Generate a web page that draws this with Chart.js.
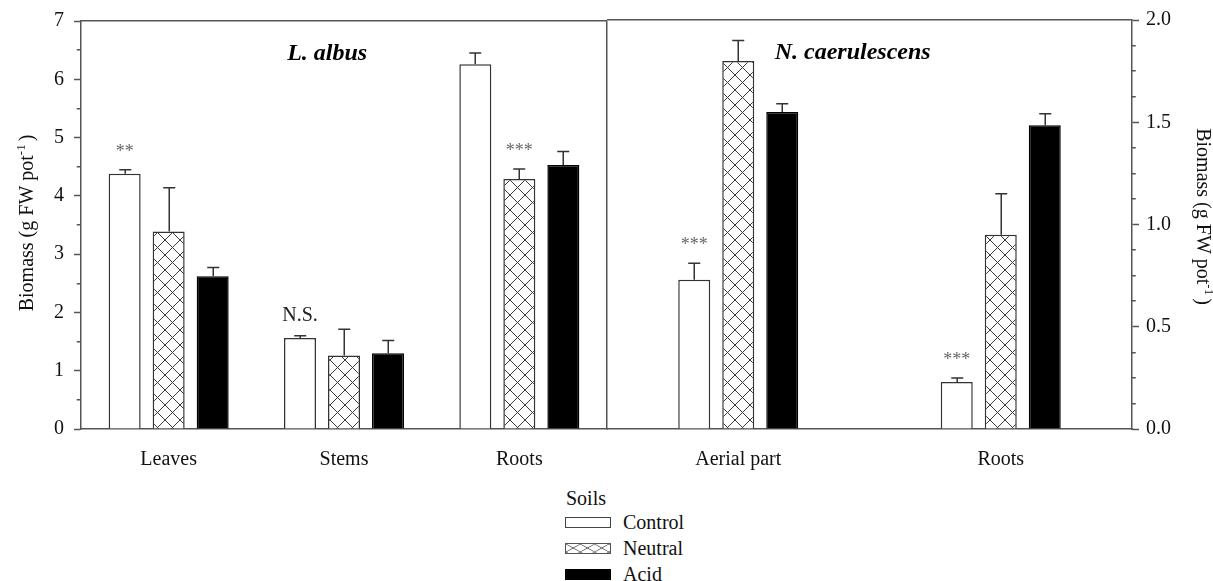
<!DOCTYPE html>
<html>
<head>
<meta charset="utf-8">
<title>Biomass - L. albus / N. caerulescens</title>
<script src="https://cdn.jsdelivr.net/npm/chart.js@4.4.1/dist/chart.umd.min.js"></script>
<style>
  html, body { margin: 0; padding: 0; background: #fff; }
  #wrap { position: relative; width: 1213px; height: 581px; overflow: hidden;
          font-family: 'Liberation Serif', 'Times New Roman', serif; color: #111; }
  #leftChart { position: absolute; left: 0; top: 0; }
  #rightChart { position: absolute; left: 600px; top: 0; }
  #legend { position: absolute; left: 565px; top: 488px; font-size: 20px; line-height: 20px; }
  #legend .head { height: 21px; padding-left: 1px; }
  #legend .row { height: 26px; display: flex; align-items: center; }
  #legend .sw { width: 46px; height: 11px; box-sizing: border-box; margin-right: 12px; }
  #legend .control { border: 1.5px solid #444; background: #fff; }
  #legend .neutral { border: 1.5px solid #555; background-color: #fff;
    background-image:
      linear-gradient(to top right, transparent calc(50% - 0.7px), #555 50%, transparent calc(50% + 0.7px)),
      linear-gradient(to bottom right, transparent calc(50% - 0.7px), #555 50%, transparent calc(50% + 0.7px));
    background-size: 14.3px 8px; }
  #legend .acid { background: #000; border: 1.5px solid #000; }
</style>
</head>
<body>
<div id="wrap">
  <canvas id="leftChart" width="620" height="470"></canvas>
  <canvas id="rightChart" width="613" height="470"></canvas>
  <div id="legend"></div>
</div>
<script>
// categories
const leftCategories = ["Leaves", "Stems", "Roots"];
const rightCategories = ["Aerial part", "Roots"];
const soils = ["Control", "Neutral", "Acid"];

// L. albus, left axis (g FW pot-1)
const albusControl = [4.38, 1.56, 6.26];
const albusNeutral = [3.39, 1.26, 4.29];
const albusAcid = [2.62, 1.30, 4.53];
const albusControlErr = [0.07, 0.04, 0.19];
const albusNeutralErr = [0.75, 0.45, 0.17];
const albusAcidErr = [0.15, 0.22, 0.23];
const albusSigText = ["**", "N.S.", "***"];
const albusSigBar = [0, 0, 1];

// N. caerulescens, right axis (g FW pot-1)
const caerControl = [0.73, 0.23];
const caerNeutral = [1.80, 0.95];
const caerAcid = [1.55, 1.485];
const caerControlErr = [0.08, 0.02];
const caerNeutralErr = [0.10, 0.20];
const caerAcidErr = [0.04, 0.056];
const caerSigText = ["***", "***"];
const caerSigBar = [0, 0];

// axis ticks
const leftTicks = [0, 1, 2, 3, 4, 5, 6, 7];
const leftMinorTicks = [0.5, 1.5, 2.5, 3.5, 4.5, 5.5, 6.5];
const rightTicks = [0, 0.5, 1.0, 1.5, 2.0];
const rightMinorTicks = [0.125, 0.25, 0.375, 0.625, 0.75, 0.875,
                         1.125, 1.25, 1.375, 1.625, 1.75, 1.875];

const FONT = "'Liberation Serif', 'Times New Roman', serif";
const AXIS_COLOR = "#555";
const BAR_LINE = "#333";

Chart.defaults.font.family = FONT;
Chart.defaults.font.size = 20;
Chart.defaults.color = "#111";

function makeHatch() {
    const c = document.createElement("canvas");
    c.width = 15;
    c.height = 15;
    const g = c.getContext("2d");
    g.fillStyle = "#fff";
    g.fillRect(0, 0, 15, 15);
    g.strokeStyle = "#3a3a3a";
    g.lineWidth = 1;
    g.beginPath();
    g.moveTo(0, 0); g.lineTo(15, 15);
    g.moveTo(15, 0); g.lineTo(0, 15);
    g.stroke();
    return g.createPattern(c, "repeat");
}
const hatch = makeHatch();

function align(p, w) {
    return Math.round(p - w / 2) + w / 2;
}

function buildDatasets(control, neutral, acid, errs) {
    const fills = ["#fff", hatch, "#000"];
    const borders = [BAR_LINE, BAR_LINE, "#000"];
    return [control, neutral, acid].map((vals, i) => ({
        label: soils[i],
        data: vals,
        errors: errs[i],
        backgroundColor: fills[i],
        borderColor: borders[i],
        borderWidth: 1.5,
        borderSkipped: "bottom",
    }));
}

function drawAxisTitle(ctx, x, y, angle) {
    const main = "Biomass (g FW pot";
    const sup = "-1";
    const end = ")";
    ctx.save();
    ctx.translate(x, y);
    ctx.rotate(angle);
    ctx.fillStyle = "#111";
    ctx.textAlign = "left";
    ctx.textBaseline = "alphabetic";
    ctx.font = "20px " + FONT;
    const w1 = ctx.measureText(main).width;
    const w3 = ctx.measureText(end).width;
    ctx.font = "13px " + FONT;
    const w2 = ctx.measureText(sup).width;
    let cx = -(w1 + w2 + w3 + 3) / 2;
    ctx.font = "20px " + FONT;
    ctx.fillText(main, cx, 0);
    cx += w1;
    ctx.font = "13px " + FONT;
    ctx.fillText(sup, cx, -8);
    cx += w2 + 3;
    ctx.font = "20px " + FONT;
    ctx.fillText(end, cx, 0);
    ctx.restore();
}

// error bars, significance marks, frame, minor ticks and titles
function panelPlugin(cfg) {
    return {
        id: "panel",
        afterDatasetsDraw(chart) {
            const ctx = chart.ctx;
            const y = chart.scales.y;
            const tops = [];
            ctx.save();
            ctx.strokeStyle = BAR_LINE;
            ctx.lineWidth = 1.5;
            chart.data.datasets.forEach((ds, i) => {
                tops[i] = [];
                chart.getDatasetMeta(i).data.forEach((bar, j) => {
                    const yTop = y.getPixelForValue(ds.data[j] + ds.errors[j]);
                    const yBar = y.getPixelForValue(ds.data[j]);
                    const x = Math.round(bar.x) + 0.25;
                    tops[i][j] = { x: bar.x, y: yTop };
                    ctx.beginPath();
                    ctx.moveTo(x, yBar);
                    ctx.lineTo(x, yTop);
                    ctx.moveTo(x - 6, yTop);
                    ctx.lineTo(x + 6, yTop);
                    ctx.stroke();
                });
            });
            ctx.textAlign = "center";
            ctx.textBaseline = "alphabetic";
            cfg.sigText.forEach((txt, j) => {
                const t = tops[cfg.sigBar[j]][j];
                if (txt.indexOf("*") >= 0) {
                    ctx.fillStyle = "#666";
                    ctx.font = "18px " + FONT;
                    ctx.fillText(txt, t.x, t.y - 13);
                } else {
                    ctx.fillStyle = "#222";
                    ctx.font = "20px " + FONT;
                    ctx.fillText(txt, t.x, t.y - 15);
                }
            });
            ctx.restore();
        },
        afterDraw(chart) {
            const ctx = chart.ctx;
            const a = chart.chartArea;
            const y = chart.scales.y;
            ctx.save();
            ctx.strokeStyle = AXIS_COLOR;
            ctx.lineWidth = 1.5;
            const top = align(a.top, 1.5);
            ctx.beginPath();
            ctx.moveTo(a.left, top);
            ctx.lineTo(a.right, top);
            if (cfg.side === "left") {
                const xr = align(a.right, 1.5);
                ctx.moveTo(xr, top);
                ctx.lineTo(xr, a.bottom);
            }
            // minor ticks
            const xAxis = cfg.side === "left" ? align(y.right, 1.5) : align(y.left, 1.5);
            const dir = cfg.side === "left" ? -1 : 1;
            cfg.minorTicks.forEach(v => {
                const py = align(y.getPixelForValue(v), 1.5);
                ctx.moveTo(xAxis, py);
                ctx.lineTo(xAxis + dir * 4, py);
            });
            ctx.stroke();

            // panel title
            ctx.fillStyle = "#000";
            ctx.font = "italic bold 24px " + FONT;
            ctx.textAlign = "center";
            ctx.textBaseline = "alphabetic";
            ctx.fillText(cfg.title, a.left + (a.right - a.left) * 0.468, a.top + 39);

            // axis title
            const mid = (a.top + a.bottom) / 2;
            if (cfg.side === "left") {
                drawAxisTitle(ctx, a.left - 48, mid - 2, -Math.PI / 2);
            } else {
                drawAxisTitle(ctx, a.right + 65, mid - 8, Math.PI / 2);
            }
            ctx.restore();
        },
    };
}

function makeChart(canvasId, cfg) {
    const ctx = document.getElementById(canvasId).getContext("2d");
    return new Chart(ctx, {
        type: "bar",
        data: {
            labels: cfg.labels,
            datasets: cfg.datasets,
        },
        options: {
            responsive: false,
            animation: false,
            events: [],
            layout: { padding: cfg.padding },
            categoryPercentage: cfg.categoryPercentage,
            barPercentage: 0.727,
            plugins: {
                legend: { display: false },
                tooltip: { enabled: false },
            },
            scales: {
                x: {
                    grid: { display: false, drawTicks: false },
                    border: { display: true, color: AXIS_COLOR, width: 1.5 },
                    ticks: { padding: 19, color: "#111", font: { size: 20 } },
                    afterFit: (scale) => { scale.height = 41; },
                },
                y: {
                    position: cfg.side,
                    min: 0,
                    max: cfg.max,
                    afterBuildTicks: (scale) => {
                        scale.ticks = cfg.ticks.map(v => ({ value: v }));
                    },
                    afterFit: (scale) => { scale.width = 81; },
                    grid: {
                        display: true,
                        drawOnChartArea: false,
                        drawTicks: true,
                        tickLength: 7,
                        tickColor: AXIS_COLOR,
                        tickWidth: 1.5,
                    },
                    border: { display: true, color: AXIS_COLOR, width: 1.5 },
                    ticks: {
                        padding: cfg.side === "left" ? 10 : 7,
                        color: "#111",
                        font: { size: 20, lineHeight: 1 },
                        callback: cfg.format,
                    },
                },
            },
        },
        plugins: [panelPlugin(cfg)],
    });
}

makeChart("leftChart", {
    side: "left",
    labels: leftCategories,
    datasets: buildDatasets(albusControl, albusNeutral, albusAcid,
        [albusControlErr, albusNeutralErr, albusAcidErr]),
    padding: { top: 21, right: 13, bottom: 0, left: 0 },
    categoryPercentage: 0.753,
    max: 7,
    ticks: leftTicks,
    minorTicks: leftMinorTicks,
    format: (v) => String(v),
    title: "L. albus",
    sigText: albusSigText,
    sigBar: albusSigBar,
});

makeChart("rightChart", {
    side: "right",
    labels: rightCategories,
    datasets: buildDatasets(caerControl, caerNeutral, caerAcid,
        [caerControlErr, caerNeutralErr, caerAcidErr]),
    padding: { top: 20, right: 0, bottom: 0, left: 7 },
    categoryPercentage: 0.503,
    max: 2,
    ticks: rightTicks,
    minorTicks: rightMinorTicks,
    format: (v) => Number(v).toFixed(1),
    title: "N. caerulescens",
    sigText: caerSigText,
    sigBar: caerSigBar,
});

// legend
const legend = document.getElementById("legend");
const swatchClass = ["control", "neutral", "acid"];
let html = '<div class="head">Soils</div>';
soils.forEach((s, i) => {
    html += '<div class="row"><div class="sw ' + swatchClass[i] + '"></div><span>' + s + '</span></div>';
});
legend.innerHTML = html;
</script>
</body>
</html>
